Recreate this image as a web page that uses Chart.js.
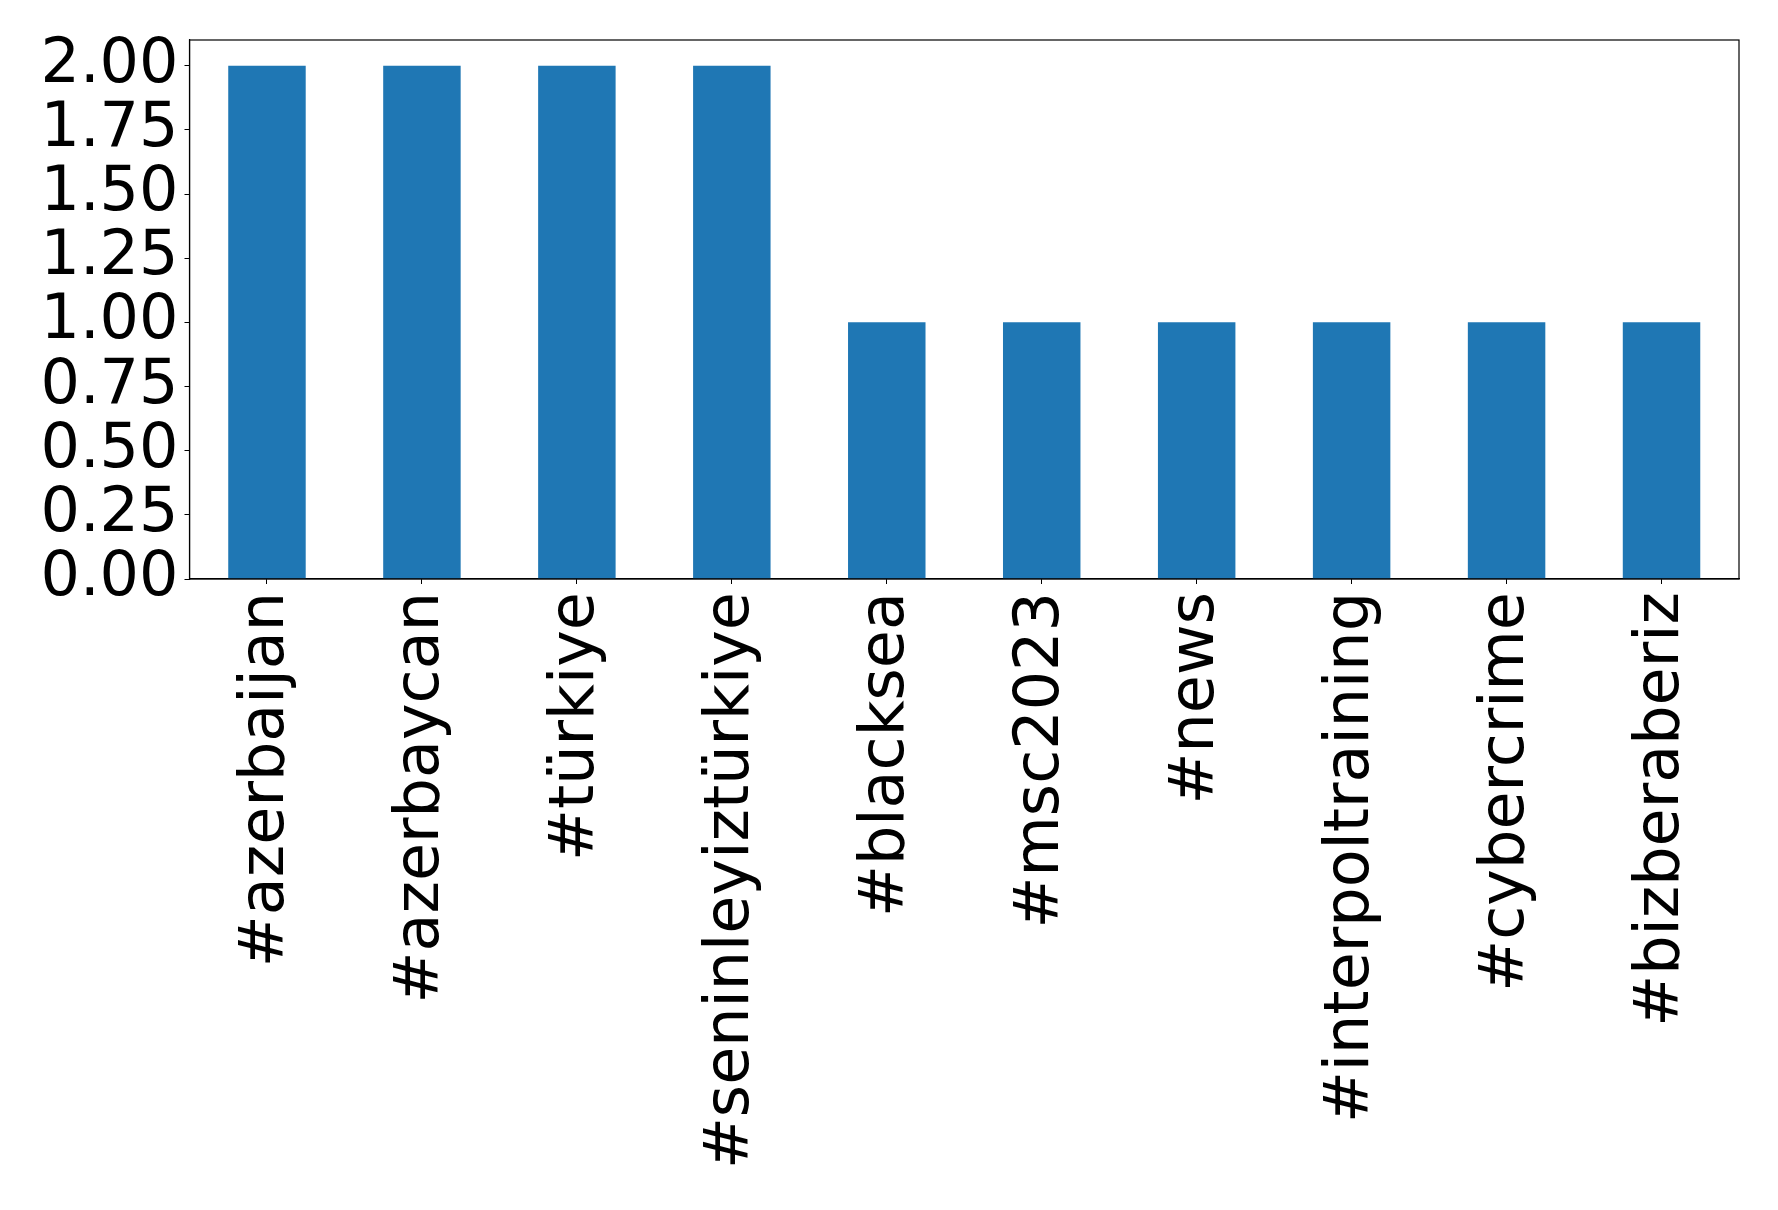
<!DOCTYPE html>
<html>
<head>
<meta charset="utf-8">
<script src="https://cdn.jsdelivr.net/npm/chart.js@4"></script>
<style>
  html, body { margin: 0; padding: 0; background: #fff; }
  #wrap { width: 1778px; height: 1210px; }
</style>
</head>
<body>
<div id="wrap"><canvas id="hashtagChart" width="1778" height="1210"></canvas></div>
<script>
// hashtag counts
const hashtags = ['#azerbaijan', '#azerbaycan', '#türkiye', '#seninleyiztürkiye', '#blacksea',
                  '#msc2023', '#news', '#interpoltraining', '#cybercrime', '#bizberaberiz'];
const counts = [2, 2, 2, 2, 1, 1, 1, 1, 1, 1];
const yTicks = [0, 0.25, 0.5, 0.75, 1, 1.25, 1.5, 1.75, 2];

document.addEventListener('DOMContentLoaded', function() {
    const canvas = document.getElementById('hashtagChart');

    // box around the plot area, like matplotlib's spines
    const frame = {
        id: 'frame',
        afterDatasetsDraw(chart) {
            const a = chart.chartArea;
            const ctx = chart.ctx;
            ctx.save();
            ctx.strokeStyle = '#000';
            ctx.lineWidth = 1.2;
            ctx.strokeRect(a.left, a.top, a.right - a.left, a.bottom - a.top);
            ctx.restore();
        }
    };

    const tickFont = { family: "'DejaVu Sans', sans-serif", size: 62 };

    new Chart(canvas, {
        type: 'bar',
        data: {
            labels: hashtags,
            datasets: [{
                data: counts,
                backgroundColor: '#1f77b4',
                borderWidth: 0,
                barPercentage: 0.5,
                categoryPercentage: 1.0
            }]
        },
        options: {
            responsive: false,
            animation: false,
            layout: { padding: { top: 40, right: 39, left: 0, bottom: 0 } },
            plugins: {
                legend: { display: false },
                tooltip: { enabled: false }
            },
            scales: {
                x: {
                    grid: {
                        offset: false,
                        drawOnChartArea: false,
                        tickLength: 5,
                        tickColor: '#000'
                    },
                    border: { color: '#000', width: 1.2 },
                    ticks: {
                        color: '#000',
                        font: tickFont,
                        minRotation: 90,
                        maxRotation: 90,
                        autoSkip: false,
                        padding: 8
                    },
                    afterFit(axis) {
                        axis.height = 631;
                        axis.paddingLeft = 0;
                        axis.paddingRight = 0;
                    }
                },
                y: {
                    min: 0,
                    max: 2.1,
                    grid: {
                        drawOnChartArea: false,
                        tickLength: 5,
                        tickColor: '#000'
                    },
                    border: { color: '#000', width: 1.2 },
                    ticks: {
                        color: '#000',
                        font: tickFont,
                        padding: 6,
                        autoSkip: false,
                        callback: v => Number(v).toFixed(2)
                    },
                    afterBuildTicks(axis) {
                        axis.ticks = yTicks.map(v => ({ value: v }));
                    },
                    afterFit(axis) {
                        axis.width = 189.5;
                        axis.paddingTop = 0;
                        axis.paddingBottom = 0;
                    }
                }
            }
        },
        plugins: [frame]
    });
});
</script>
</body>
</html>
